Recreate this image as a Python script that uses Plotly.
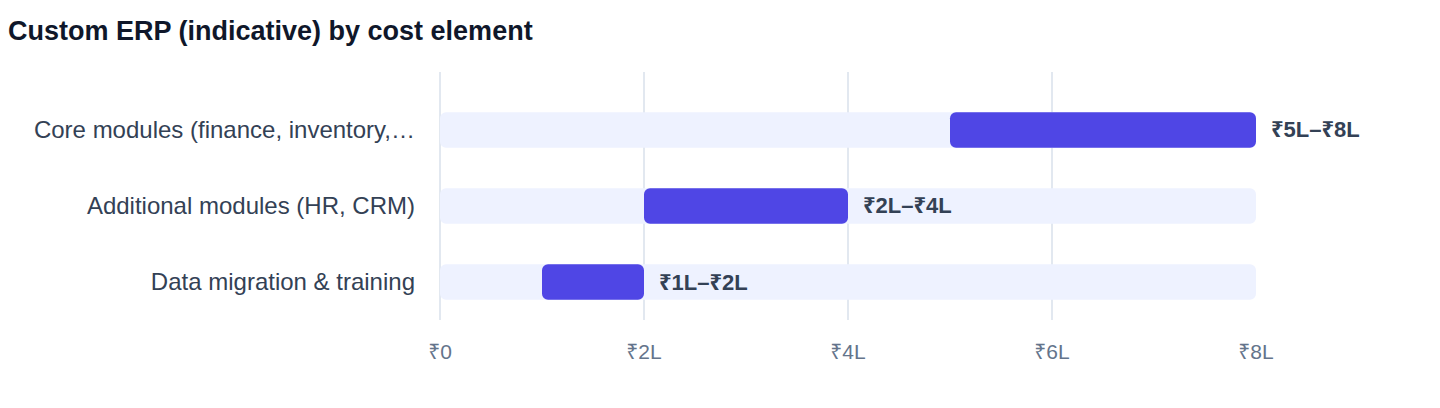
import plotly.graph_objects as go

# cost elements, low / high estimates in lakh rupees
categories = [
    "Core modules (finance, inventory,…",
    "Additional modules (HR, CRM)",
    "Data migration & training",
]
low = [5, 2, 1]
high = [8, 4, 2]
labels = ["₹5L–₹8L", "₹2L–₹4L", "₹1L–₹2L"]
track_max = 8
tick_vals = [0, 2, 4, 6, 8]
tick_text = ["₹0", "₹2L", "₹4L", "₹6L", "₹8L"]

FONT = "Liberation Sans, Arial, Noto Sans, sans-serif"
GRID = "#e2e8f0"

# the page body adds an 8px margin, so the figure is a bit smaller
W, H = 1432, 400


def base_figure():
    """Empty figure with the page layout."""
    fig = go.Figure()
    fig.update_layout(
        width=W,
        height=H,
        margin={"l": 432, "r": 184, "t": 64, "b": 88},
        paper_bgcolor="white",
        plot_bgcolor="white",
        barmode="overlay",
        barcornerradius=6,
        showlegend=False,
        font=dict(family=FONT, color="#334155"),
        title=dict(
            text="<b>Custom ERP (indicative) by cost element</b>",
            font=dict(size=27, color="#0f172a", family=FONT),
            x=0, xref="container", xanchor="left",
            y=1 - 23 / H, yref="container", yanchor="middle",
            pad=dict(l=0, r=0, t=0, b=0),
        ),
    )
    fig.update_xaxes(
        range=[0, track_max],
        tickvals=tick_vals,
        ticktext=tick_text,
        tickfont=dict(size=21, color="#64748b"),
        showgrid=True,
        gridcolor=GRID,
        gridwidth=1.5,
        zeroline=True,
        zerolinecolor=GRID,
        zerolinewidth=1.5,
        showline=False,
        ticks="",
        ticklabelstandoff=17,
        fixedrange=True,
    )
    fig.update_yaxes(
        categoryorder="array",
        categoryarray=categories,
        range=[2.5, -0.763],
        tickfont=dict(size=24, color="#334155"),
        showgrid=False,
        zeroline=False,
        showline=False,
        ticks="",
        ticklabelstandoff=24,
        fixedrange=True,
    )
    return fig


def add_tracks(fig):
    """Light full-width track behind every range."""
    fig.add_trace(
        go.Bar(
            y=categories,
            x=[track_max] * len(categories),
            base=[0] * len(categories),
            orientation="h",
            width=0.47,
            marker=dict(color="#eef2ff", line=dict(width=0)),
            hoverinfo="skip",
        )
    )
    return fig


def add_ranges(fig):
    """Indigo bar from low to high estimate, with its label."""
    fig.add_trace(
        go.Bar(
            y=categories,
            x=[h - l for l, h in zip(low, high)],
            base=low,
            orientation="h",
            width=0.47,
            marker=dict(color="#4f46e5", line=dict(width=0)),
            customdata=labels,
            hovertemplate="%{y}: %{customdata}<extra></extra>",
        )
    )
    for cat, h, lab in zip(categories, high, labels):
        fig.add_annotation(
            x=h, y=cat, text=f"<b>{lab}</b>",
            xanchor="left", yanchor="middle", xshift=13,
            showarrow=False,
            font=dict(size=22, color="#334155", family=FONT),
        )
    return fig


def main():
    fig = base_figure()
    fig = add_tracks(fig)
    fig = add_ranges(fig)
    fig.write_html("out.html")


if __name__ == "__main__":
    main()
